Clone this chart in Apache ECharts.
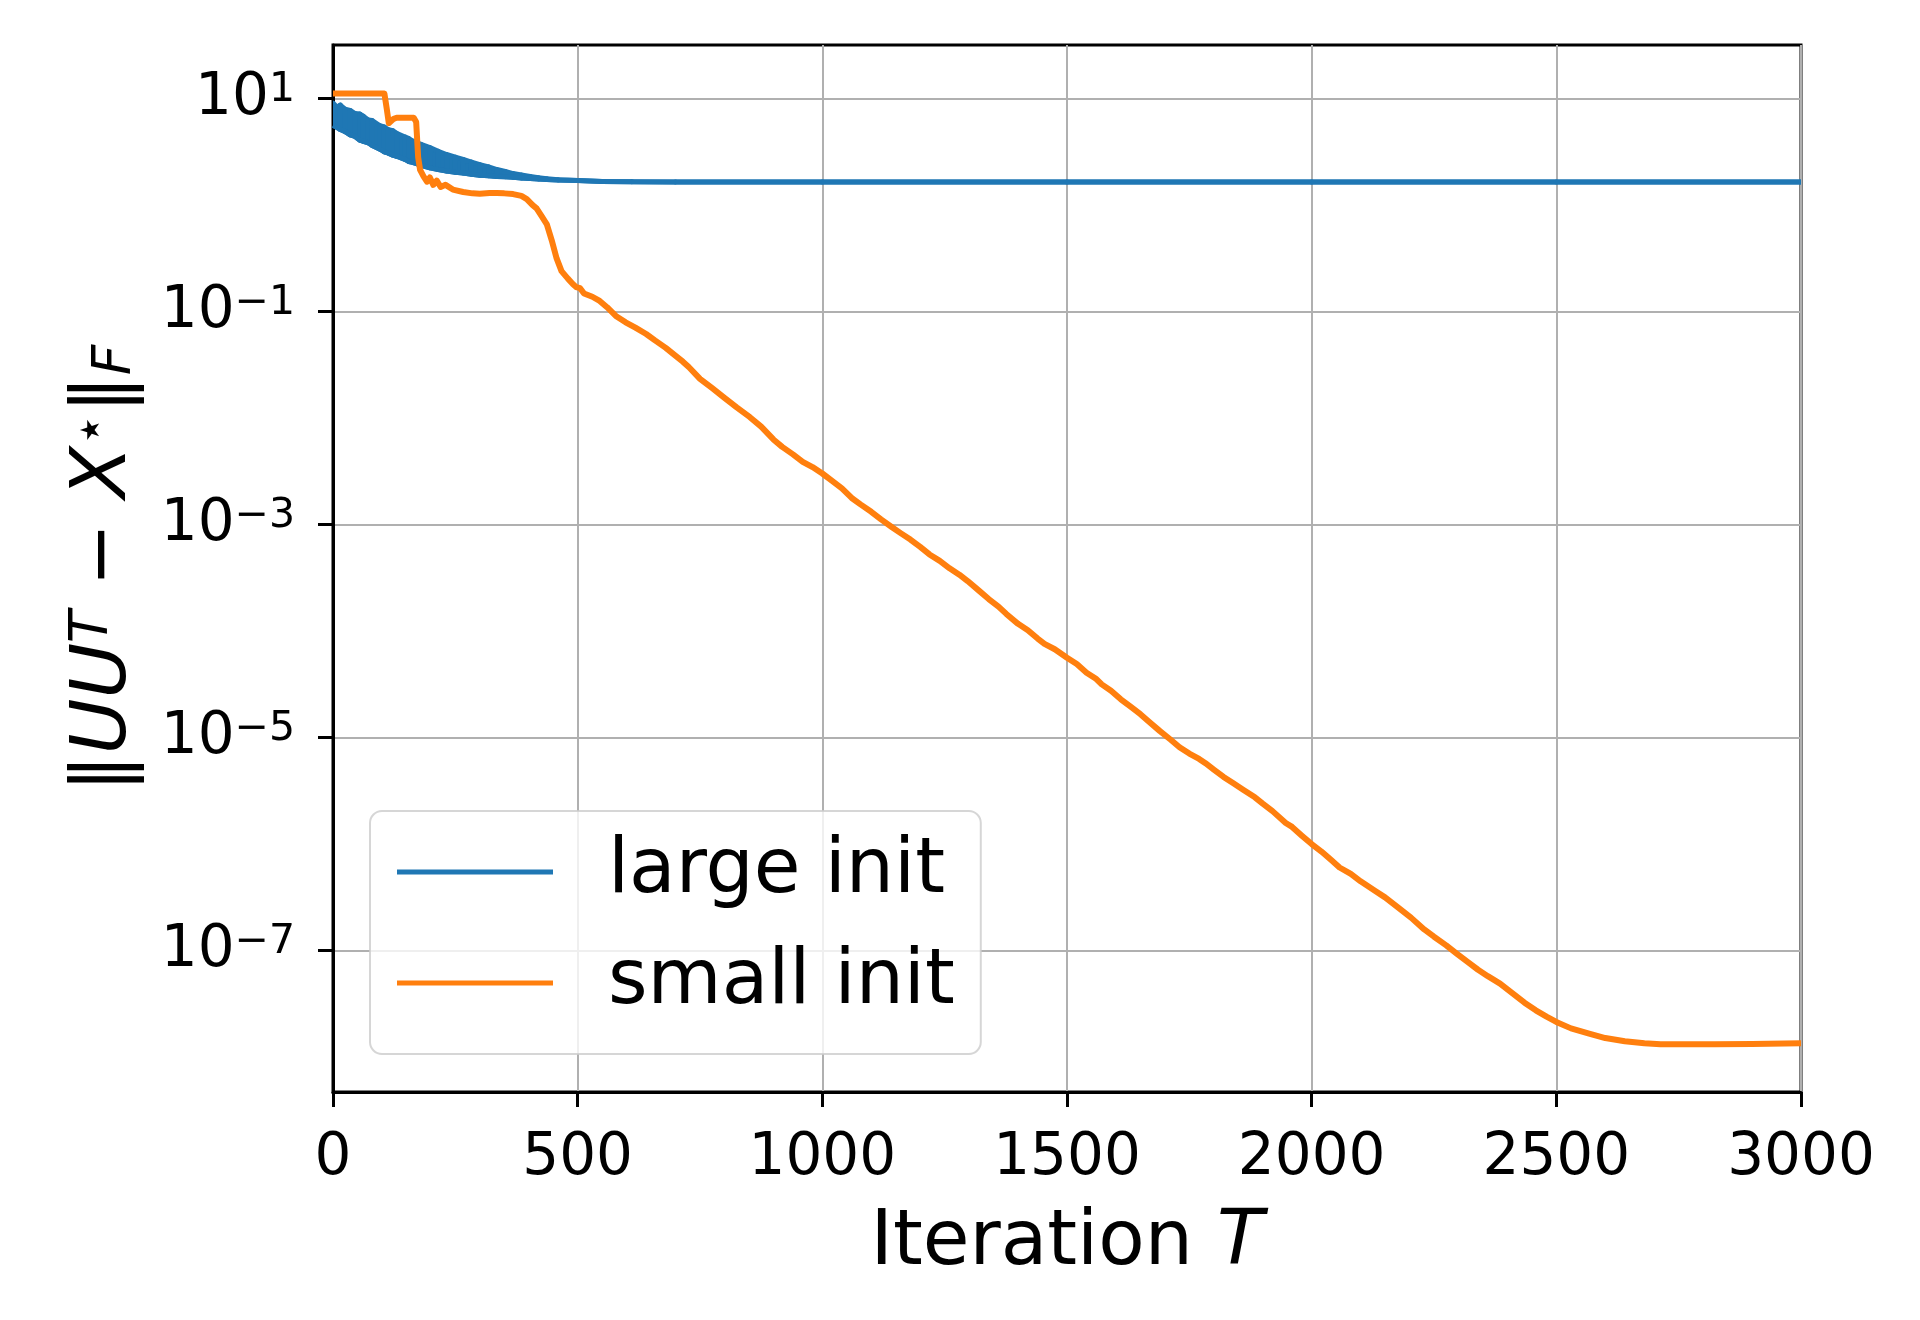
<!DOCTYPE html>
<html>
<head>
<meta charset="utf-8">
<script src="https://cdn.jsdelivr.net/npm/echarts@6.0.0/dist/echarts.min.js"></script>
<style>
  html, body { margin: 0; padding: 0; background: #ffffff; }
  #chart { width: 1920px; height: 1320px; }
</style>
</head>
<body>
<div id="chart"></div>
<script>
// ---------------- data ----------------
// x ticks (iterations)
const xTicks = [0, 500, 1000, 1500, 2000, 2500, 3000];
// y ticks (powers of ten shown on the log axis)
const yTickExponents = [-7, -5, -3, -1, 1];

// "large init": oscillating band (upper / lower envelope) that collapses to a plateau
const blueT = [0, 8, 15, 25, 35, 45, 55, 62, 72, 80, 96, 105, 112, 122, 130, 147, 155, 164, 180, 198,
  215, 232, 250, 266, 283, 300, 318, 335, 352, 368, 385, 403, 420, 437, 460, 500, 550, 611, 700,
  1000, 1500, 2000, 2500, 3000];
const blueUpper = [9.12, 8.32, 8.71, 7.94, 7.76, 7.24, 7.16, 6.84, 6.31, 6.24, 5.56, 5.43, 5.13, 5.01, 4.73,
  4.37, 4.22, 3.98, 3.72, 3.47, 3.20, 2.99, 2.82, 2.69, 2.54, 2.40, 2.29, 2.16, 2.07, 1.98, 1.92, 1.86,
  1.81, 1.77, 1.73, 1.70, 1.67, 1.66, 1.65, 1.65, 1.65, 1.65, 1.65, 1.65];
const blueLower = [5.62, 5.37, 5.13, 4.90, 4.57, 4.42, 4.07, 3.98, 3.85, 3.63, 3.35, 3.16, 3.09, 2.95, 2.88,
  2.69, 2.57, 2.51, 2.37, 2.24, 2.16, 2.09, 2.04, 2.00, 1.95, 1.91, 1.89, 1.86, 1.85, 1.83, 1.80, 1.78,
  1.76, 1.74, 1.72, 1.70, 1.67, 1.66, 1.65, 1.65, 1.65, 1.65, 1.65, 1.65];

// "small init"
const orangeT = [0, 105, 110, 114, 118, 124, 130, 165, 170, 174, 178, 185, 192, 198, 205, 212, 220, 230, 245,
  266, 285, 300, 320, 335, 350, 368, 385, 396, 408, 416, 426, 437, 447, 457, 467, 480, 490, 497, 505, 513,
  530, 545, 560, 578, 598, 618, 640, 658, 680, 699, 715, 727, 750, 775, 800, 825, 852, 875, 900, 918,
  940, 960, 980, 1000, 1020, 1040, 1060, 1078, 1100, 1120, 1141, 1160, 1180, 1200, 1219, 1240, 1260,
  1280, 1297, 1320, 1340, 1360, 1376, 1400, 1420, 1440, 1454, 1475, 1500, 1520, 1540, 1560, 1571, 1590,
  1610, 1630, 1650, 1670, 1690, 1712, 1730, 1750, 1770, 1783, 1800, 1820, 1840, 1860, 1884, 1900, 1920,
  1947, 1960, 1980, 2000, 2020, 2040, 2057, 2080, 2100, 2130, 2150, 2175, 2203, 2230, 2250, 2275, 2297,
  2320, 2340, 2360, 2385, 2410, 2435, 2458, 2480, 2500, 2530, 2567, 2600, 2640, 2680, 2713, 2823, 2900, 3000];
const orangeVal = [11.2, 11.2, 7.94, 5.89, 5.75, 6.46, 6.61, 6.61, 6.03, 2.82, 2.14, 1.86, 1.66, 1.82, 1.55,
  1.70, 1.48, 1.55, 1.40, 1.33, 1.29, 1.28, 1.30, 1.30, 1.29, 1.27, 1.22, 1.14, 1.00, 0.933, 0.794, 0.661,
  0.468, 0.316, 0.240, 0.204, 0.182, 0.170, 0.166, 0.148, 0.138, 0.126, 0.110, 0.0912, 0.0794, 0.0708,
  0.0617, 0.0537, 0.0457, 0.0389, 0.0339, 0.0302, 0.0234, 0.0191, 0.0155, 0.0126, 0.0102, 0.00832,
  0.00631, 0.00537, 0.00457, 0.00389, 0.00347, 0.00302, 0.00257, 0.00219, 0.00178, 0.00155, 0.00132,
  0.00112, 9.55e-4, 8.32e-4, 7.24e-4, 6.17e-4, 5.25e-4, 4.57e-4, 3.89e-4, 3.39e-4, 2.95e-4, 2.40e-4,
  2.00e-4, 1.70e-4, 1.45e-4, 1.17e-4, 1.02e-4, 8.51e-5, 7.59e-5, 6.76e-5, 5.62e-5, 4.90e-5, 4.07e-5,
  3.55e-5, 3.16e-5, 2.75e-5, 2.29e-5, 1.95e-5, 1.66e-5, 1.38e-5, 1.15e-5, 9.55e-6, 8.13e-6, 7.08e-6,
  6.31e-6, 5.75e-6, 5.01e-6, 4.27e-6, 3.72e-6, 3.24e-6, 2.75e-6, 2.40e-6, 2.04e-6, 1.58e-6, 1.45e-6,
  1.20e-6, 1.00e-6, 8.51e-7, 7.08e-7, 6.03e-7, 5.25e-7, 4.47e-7, 3.63e-7, 3.16e-7, 2.57e-7, 2.04e-7,
  1.58e-7, 1.35e-7, 1.12e-7, 9.33e-8, 7.76e-8, 6.61e-8, 5.75e-8, 4.90e-8, 3.98e-8, 3.24e-8, 2.75e-8,
  2.40e-8, 2.14e-8, 1.86e-8, 1.66e-8, 1.51e-8, 1.41e-8, 1.35e-8, 1.32e-8, 1.32e-8, 1.33e-8, 1.35e-8];

// axis range (value range of the log axis)
const yMinValue = 4.7e-9;
const yMaxValue = 31.9;

// ---------------- chart ----------------
const BLUE = '#1f77b4';
const ORANGE = '#ff7f0e';
const FONT = 'DejaVu Sans';
const L = Math.log10;

const chart = echarts.init(document.getElementById('chart'), null, { renderer: 'canvas' });

const supText = e => (e < 0 ? '\u2212' + (-e) : String(e));

const option = {
  backgroundColor: '#ffffff',
  animation: false,
  grid: {
    left: 333, right: 119, top: 45, bottom: 228,
    show: true, borderColor: '#000', borderWidth: 3, backgroundColor: 'transparent'
  },
  legend: {
    data: [
      { name: 'large init', icon: 'rect', itemStyle: { color: BLUE } },
      { name: 'small init', icon: 'rect', itemStyle: { color: ORANGE } }
    ],
    orient: 'vertical',
    left: 370, top: 811,
    itemWidth: 156, itemHeight: 5, itemGap: 21,
    padding: [16, 26, 26, 27],
    backgroundColor: 'rgba(255,255,255,0.8)',
    borderColor: 'rgba(204,204,204,0.8)',
    borderWidth: 2, borderRadius: 12,
    textStyle: { fontFamily: FONT, fontSize: 76, color: '#000', lineHeight: 90, padding: [0, 0, 0, 50] }
  },
  xAxis: {
    type: 'value', min: xTicks[0], max: xTicks[xTicks.length - 1], interval: 500,
    name: '{n|Iteration }{i|T}', nameLocation: 'middle', nameGap: 114,
    nameTextStyle: {
      fontFamily: FONT, fontSize: 76, color: '#000',
      rich: {
        n: { fontFamily: FONT, fontSize: 76, color: '#000' },
        i: { fontFamily: FONT, fontSize: 76, fontStyle: 'italic', color: '#000' }
      }
    },
    axisLine: { show: true, onZero: false, lineStyle: { color: '#000', width: 3 } },
    axisTick: { show: true, inside: false, length: 15, lineStyle: { color: '#000', width: 3 } },
    axisLabel: { fontFamily: FONT, fontSize: 58, color: '#000', margin: 38, formatter: v => String(v) },
    splitLine: { show: true, lineStyle: { color: '#b0b0b0', width: 2 } }
  },
  yAxis: {
    type: 'value', min: L(yMinValue), max: L(yMaxValue),
    name: '{n|\u2016}{i|UU}{su|T}{n| \u2212 }{i|X}{st|\u22c6}{n|\u2016}{sb|F}',
    nameLocation: 'middle', nameRotate: 90, nameGap: 190,
    nameTextStyle: {
      fontFamily: FONT, fontSize: 76, color: '#000',
      rich: {
        n: { fontFamily: FONT, fontSize: 76, color: '#000' },
        i: { fontFamily: FONT, fontSize: 76, fontStyle: 'italic', color: '#000' },
        su: { fontFamily: FONT, fontSize: 53, fontStyle: 'italic', color: '#000', verticalAlign: 'top', lineHeight: 50 },
        st: { fontFamily: FONT, fontSize: 53, color: '#000', verticalAlign: 'top', lineHeight: 50 },
        sb: { fontFamily: FONT, fontSize: 53, fontStyle: 'italic', color: '#000', verticalAlign: 'bottom', lineHeight: 40 }
      }
    },
    axisLine: { show: true, onZero: false, lineStyle: { color: '#000', width: 3 } },
    axisTick: { show: true, inside: false, length: 15, lineStyle: { color: '#000', width: 3 }, customValues: yTickExponents },
    axisLabel: {
      customValues: yTickExponents,
      margin: 38,
      formatter: v => '{b|10}{s|' + supText(Math.round(v)) + '}',
      rich: {
        b: { fontFamily: FONT, fontSize: 58, color: '#000', lineHeight: 58, verticalAlign: 'middle' },
        s: { fontFamily: FONT, fontSize: 41, color: '#000', lineHeight: 34, verticalAlign: 'top' }
      }
    },
    splitLine: { show: true, lineStyle: { color: '#b0b0b0', width: 2 }, customValues: yTickExponents }
  },
  series: [
    {
      name: 'large init', type: 'line', symbol: 'none', showSymbol: false,
      data: blueT.map((t, i) => [t, L(blueLower[i])]),
      lineStyle: { color: BLUE, width: 5 }, itemStyle: { color: BLUE }, z: 3
    },
    {
      type: 'custom', clip: true, z: 3, silent: true,
      data: blueT.map((t, i) => [t, L(blueLower[i]), L(blueUpper[i])]),
      encode: { x: 0, y: [1, 2] },
      renderItem: (params, api) => {
        const i = params.dataIndex;
        if (i >= blueT.length - 1) return null;
        const a = api.coord([blueT[i], L(blueUpper[i])]);
        const b = api.coord([blueT[i + 1], L(blueUpper[i + 1])]);
        const c = api.coord([blueT[i + 1], L(blueLower[i + 1])]);
        const d = api.coord([blueT[i], L(blueLower[i])]);
        return {
          type: 'polygon', shape: { points: [a, b, c, d] },
          style: { fill: BLUE, stroke: BLUE, lineWidth: 5, lineJoin: 'round' }
        };
      }
    },
    {
      name: 'small init', type: 'line', symbol: 'none', showSymbol: false,
      data: orangeT.map((t, i) => [t, L(orangeVal[i])]),
      lineStyle: { color: ORANGE, width: 6, join: 'round' }, itemStyle: { color: ORANGE }, z: 3
    }
  ]
};

chart.setOption(option);
</script>
</body>
</html>
